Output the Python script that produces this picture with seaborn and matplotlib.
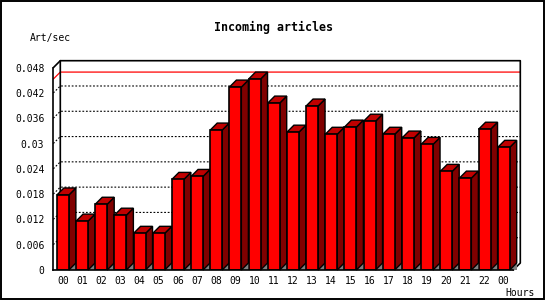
import numpy as np
import pandas as pd
import matplotlib
matplotlib.use("Agg")
import matplotlib.pyplot as plt
import matplotlib.transforms as mtransforms
from matplotlib.patches import Polygon, Rectangle
from matplotlib.lines import Line2D
import seaborn as sns

# ---------------- data ----------------
hours = ["00", "01", "02", "03", "04", "05", "06", "07", "08", "09", "10", "11",
         "12", "13", "14", "15", "16", "17", "18", "19", "20", "21", "22", "00"]
art_per_sec = [0.0178, 0.0116, 0.0156, 0.0130, 0.0087, 0.0087, 0.0215, 0.0222,
               0.0332, 0.0434, 0.0453, 0.0396, 0.0327, 0.0389, 0.0322, 0.0339,
               0.0353, 0.0322, 0.0313, 0.0298, 0.0234, 0.0218, 0.0334, 0.0291]
y_ticks = [0, 0.006, 0.012, 0.018, 0.024, 0.03, 0.036, 0.042, 0.048]
y_tick_labels = ["0", "0.006", "0.012", "0.018", "0.024", "0.03", "0.036", "0.042", "0.048"]
max_value = max(art_per_sec)
title = "Incoming articles"
y_label = "Art/sec"
x_label = "Hours"

# ---------------- style ----------------
W, H, DPI = 550, 300, 100
DEPTH = 7  # px
FRONT = "#ff0000"
SIDE = "#800000"
TOP = "#c00000"
FLOOR = "#808080"
LW = 1.2
LW3D = 1.0
MONO = ["DejaVu Sans Mono"]

sns.set_style("white")
plt.rcParams["font.family"] = MONO
plt.rcParams["text.color"] = "black"
plt.rcParams["xtick.color"] = "black"
plt.rcParams["ytick.color"] = "black"
plt.rcParams["xtick.labelcolor"] = "black"
plt.rcParams["ytick.labelcolor"] = "black"

fig = plt.figure(figsize=(W / DPI, H / DPI), dpi=DPI)
ax = fig.add_axes([53.3 / W, 30 / H, 460 / W, (270 - 67.7) / H])

df = pd.DataFrame({"slot": np.arange(len(hours)), "value": art_per_sec})
sns.barplot(data=df, x="slot", y="value", color=FRONT, saturation=1, width=0.625,
            edgecolor="black", linewidth=LW, ax=ax, zorder=3)

ax.set_xlim(-0.5, len(hours) - 0.5)
ax.set_ylim(0, y_ticks[-1])
ax.set_xlabel("")
ax.set_ylabel("")
for s in ["top", "right"]:
    ax.spines[s].set_visible(False)
for s in ["left", "bottom"]:
    ax.spines[s].set_visible(True)
    ax.spines[s].set_color("black")
    ax.spines[s].set_linewidth(LW)
    ax.spines[s].set_zorder(4)
ax.patch.set_visible(False)

ax.set_yticks(y_ticks)
ax.set_yticklabels(y_tick_labels)
ax.set_xticks(np.arange(len(hours)))
ax.set_xticklabels(hours)
ax.set_xticks(np.arange(len(hours) + 1) - 0.5, minor=True)
ax.tick_params(axis="y", which="major", direction="out", length=2.5, width=1,
               color="black", labelcolor="black", labelsize=7, pad=4)
ax.tick_params(axis="x", which="major", length=0, labelsize=7, pad=4,
               labelcolor="black")
ax.tick_params(axis="x", which="minor", direction="out", length=2.5, width=1,
               color="black")
for lab in ax.get_xticklabels() + ax.get_yticklabels():
    lab.set_family(MONO)
    lab.set_color("black")

fig.canvas.draw()
I = mtransforms.IdentityTransform()


def disp(x, y):
    return ax.transData.transform((x, y))


def back(pt):
    return pt + np.array([DEPTH, DEPTH])


x0, x1 = -0.5, len(hours) - 0.5
ytop = y_ticks[-1]

# grid lines (left wall + back wall), dotted
for v in y_ticks[1:-1]:
    p0 = disp(x0, v)
    pts = np.array([p0, back(p0), back(disp(x1, v))])
    ax.add_line(Line2D(pts[:, 0], pts[:, 1], transform=I, color="black", lw=0.8,
                       linestyle=(0, (1.6, 1.6)), zorder=1, clip_on=False))

# max value line (red)
p0 = disp(x0, max_value)
pts = np.array([p0, back(p0), back(disp(x1, max_value))])
ax.add_line(Line2D(pts[:, 0], pts[:, 1], transform=I, color="#ff0000", lw=0.9,
                   zorder=1.5, clip_on=False))

# back wall outline
bl = back(disp(x0, 0))
tl_f = disp(x0, ytop)
tl = back(tl_f)
tr = back(disp(x1, ytop))
br = back(disp(x1, 0))
br_f = disp(x1, 0)
pts = np.array([bl, tl, tr, br, br_f])
ax.add_line(Line2D(pts[:, 0], pts[:, 1], transform=I, color="black", lw=LW,
                   zorder=1.6, clip_on=False))
pts = np.array([tl_f, tl])
ax.add_line(Line2D(pts[:, 0], pts[:, 1], transform=I, color="black", lw=LW,
                   zorder=1.6, clip_on=False))

# 3D side/top faces of each bar derived from seaborn's bars
for bar in ax.patches[:len(hours)]:
    bx, bw, bh = bar.get_x(), bar.get_width(), bar.get_height()
    fl_b = disp(bx, 0)
    fr_b = disp(bx + bw, 0)
    fl_t = disp(bx, bh)
    fr_t = disp(bx + bw, bh)
    floor = Polygon([fr_b, fr_b + np.array([DEPTH, 0]), back(fr_b)], closed=True,
                    transform=I, facecolor=FLOOR, edgecolor="none", zorder=2,
                    clip_on=False)
    side = Polygon([fr_b, back(fr_b), back(fr_t), fr_t], closed=True, transform=I,
                   facecolor=SIDE, edgecolor="black", lw=LW3D, zorder=2.5,
                   clip_on=False, joinstyle="miter")
    top = Polygon([fl_t, back(fl_t), back(fr_t), fr_t], closed=True, transform=I,
                  facecolor=TOP, edgecolor="black", lw=LW3D, zorder=2.5,
                  clip_on=False, joinstyle="miter")
    ax.add_patch(floor)
    ax.add_patch(side)
    ax.add_patch(top)

# texts
fig.text(273.5 / W, 1 - 31 / H, title, ha="center", va="baseline", fontsize=8.4,
         fontweight="bold", family=MONO, color="black")
fig.text(30 / W, 1 - 40.5 / H, y_label, ha="left", va="baseline", fontsize=7,
         family=MONO, color="black")
fig.text(505 / W, 1 - 295.5 / H, x_label, ha="left", va="baseline", fontsize=7,
         family=MONO, color="black")

# outer frame
fig.add_artist(Rectangle((1 / W, 1 / H), 543 / W, 298 / H, transform=fig.transFigure,
                         fill=False, edgecolor="black", lw=1.4))

fig.savefig("out.png", dpi=DPI, facecolor="white")
